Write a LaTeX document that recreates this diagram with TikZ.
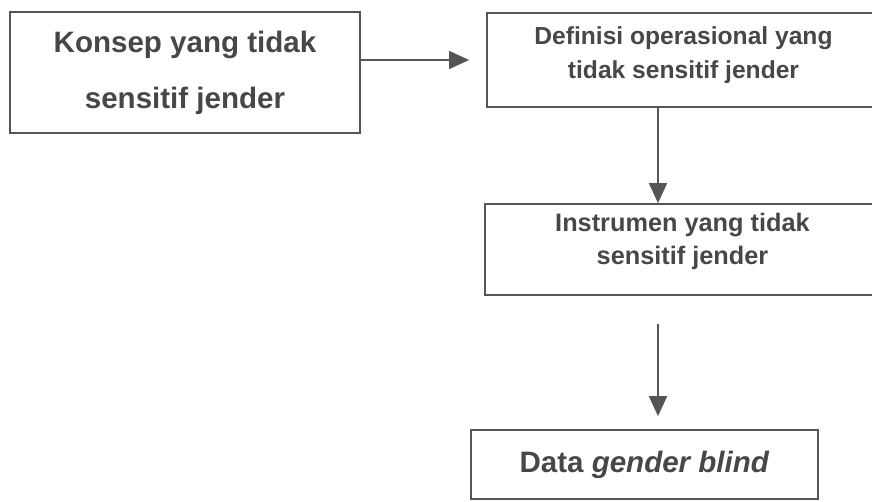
\documentclass[tikz,border=0pt]{standalone}
\usepackage{fontspec}
\setmainfont{Liberation Sans}
\usetikzlibrary{arrows.meta}
\definecolor{inkgray}{HTML}{474747}
\definecolor{linegray}{HTML}{555555}

\tikzset{
  box/.style={draw=linegray, line width=1.2pt, rectangle, align=center, text=inkgray},
  flow/.style={draw=linegray, line width=1.2pt, -{Triangle[length=5mm, width=4.5mm]}}
}

\begin{document}
\begin{tikzpicture}[x=0.025cm, y=-0.025cm]
\path[use as bounding box, clip] (0,0) rectangle (872,501);

% Concept
\node[box, minimum width=8.75cm, minimum height=3.025cm,
  font=\bfseries\fontsize{21}{40}\selectfont] (konsep) at (185,72.5)
  {Konsep yang tidak\\ sensitif jender};
% Operational definition
\node[box, minimum width=9.825cm, minimum height=2.35cm, text depth=11pt,
  font=\bfseries\fontsize{17.5}{24}\selectfont] (definisi) at (683.5,60)
  {Definisi operasional yang\\ tidak sensitif jender};
% Instrument
\node[box, minimum width=9.875cm, minimum height=2.275cm, text depth=15pt,
  font=\bfseries\fontsize{18}{23.5}\selectfont] (instrumen) at (682.5,249.5)
  {Instrumen yang tidak\\ sensitif jender};
% Data
\node[box, minimum width=8.675cm, minimum height=1.725cm,
  font=\bfseries\fontsize{21}{24}\selectfont] (data) at (644.5,464.5)
  {Data \textit{gender blind}};

% Arrows
\coordinate (col) at (658,0);
\draw[flow] (konsep.east |- definisi.west) -- ([xshift=-4.25mm]definisi.west);
\draw[flow] (definisi.south -| col) -- (instrumen.north -| col);
\draw[flow] ([yshift=-7mm]instrumen.south -| col) -- ([yshift=3.25mm]data.north -| col);
\end{tikzpicture}
\end{document}
